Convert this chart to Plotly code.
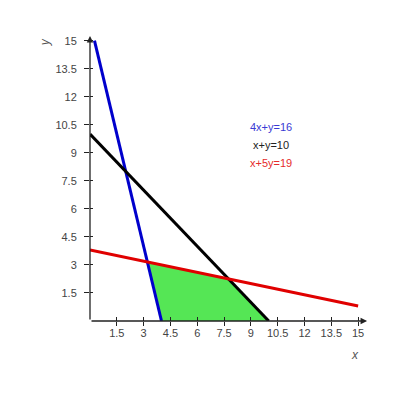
import plotly.graph_objects as go
import numpy as np

# lines a*x + b*y = c
labels = ['4x+y=16', 'x+y=10', 'x+5y=19']
coef_a = [4, 1, 1]
coef_b = [1, 1, 5]
coef_c = [16, 10, 19]
line_colors = ['#0000cc', '#000000', '#e00000']
text_colors = ['#3a3ad4', '#222222', '#e52b2b']

ticks = [1.5, 3, 4.5, 6, 7.5, 9, 10.5, 12, 13.5, 15]
box_max = 15


def segment(a, b, c):
    # part of the line inside the box [0, 15] x [0, 15]
    lo, hi = 0.0, float(box_max)
    x_top = (c - b * box_max) / a
    x_bot = c / a
    lo = max(lo, min(x_top, x_bot))
    hi = min(hi, max(x_top, x_bot))
    xs = np.array([lo, hi])
    return xs, (c - a * xs) / b


def meet(i, j):
    # None stands for the x axis (y = 0)
    rows, rhs = [], []
    for k in (i, j):
        if k is None:
            rows.append([0, 1])
            rhs.append(0)
        else:
            rows.append([coef_a[k], coef_b[k]])
            rhs.append(coef_c[k])
    return np.linalg.solve(np.array(rows, float), np.array(rhs, float))


# feasible region corners
corners = [meet(0, None), meet(0, 2), meet(2, 1), meet(1, None)]
px = [p[0] for p in corners] + [corners[0][0]]
py = [p[1] for p in corners] + [corners[0][1]]

fig = go.Figure()

fig.add_trace(go.Scatter(
    x=px, y=py, mode='lines', fill='toself',
    fillcolor='#55e655', line=dict(width=0), hoverinfo='skip'
))

for i in range(len(labels)):
    xs, ys = segment(coef_a[i], coef_b[i], coef_c[i])
    fig.add_trace(go.Scatter(
        x=xs, y=ys, mode='lines', name=labels[i],
        line=dict(color=line_colors[i], width=3)
    ))

# dummy trace so the inside-tick overlay axes get drawn
fig.add_trace(go.Scatter(x=[None], y=[None], xaxis='x2', yaxis='y2', hoverinfo='skip'))

annotations = []
# axes with arrow heads
annotations.append(dict(x=15.5, y=0, ax=0, ay=0, xref='x', yref='y', axref='x', ayref='y',
                        showarrow=True, arrowhead=2, arrowsize=1, arrowwidth=1.3,
                        arrowcolor='#222222', text=''))
annotations.append(dict(x=0, y=15.25, ax=0, ay=0, xref='x', yref='y', axref='x', ayref='y',
                        showarrow=True, arrowhead=2, arrowsize=1, arrowwidth=1.3,
                        arrowcolor='#222222', text=''))
annotations.append(dict(x=0.9266, y=-0.1137, xref='paper', yref='paper', text='<i>x</i>',
                        xanchor='center', yanchor='middle',
                        showarrow=False, font=dict(size=12, color='#555555')))
annotations.append(dict(x=-0.157, y=0.933, xref='paper', yref='paper', text='<i>y</i>',
                        xanchor='center', yanchor='middle',
                        textangle=-90, showarrow=False, font=dict(size=12, color='#555555')))
for i, yy in enumerate([10.4, 9.44, 8.47]):
    annotations.append(dict(x=10.1, y=yy, xref='x', yref='y', text=labels[i],
                            showarrow=False, font=dict(size=11, color=text_colors[i])))

axis_common = dict(range=[0, 16], tickvals=ticks, ticktext=[f'{t:g}' for t in ticks],
                   tickcolor='#222222', tickwidth=1, showgrid=False,
                   zeroline=False, showline=False)

fig.update_layout(
    width=400, height=400,
    margin=dict(l=82, r=32, t=14, b=87),
    paper_bgcolor='white', plot_bgcolor='white',
    showlegend=False,
    font=dict(family='Liberation Sans, Arial', size=11, color='#444444'),
    xaxis=dict(**axis_common, ticks='outside', ticklen=4, ticklabelstandoff=-2),
    yaxis=dict(**axis_common, ticks='outside', ticklen=5, ticklabelstandoff=5),
    xaxis2=dict(**axis_common, ticks='inside', ticklen=4, showticklabels=False,
                overlaying='x', anchor='y2'),
    yaxis2=dict(**axis_common, ticks='inside', ticklen=3, showticklabels=False,
                overlaying='y', anchor='x2', side='left'),
    annotations=annotations
)

fig.write_html('out.html')
